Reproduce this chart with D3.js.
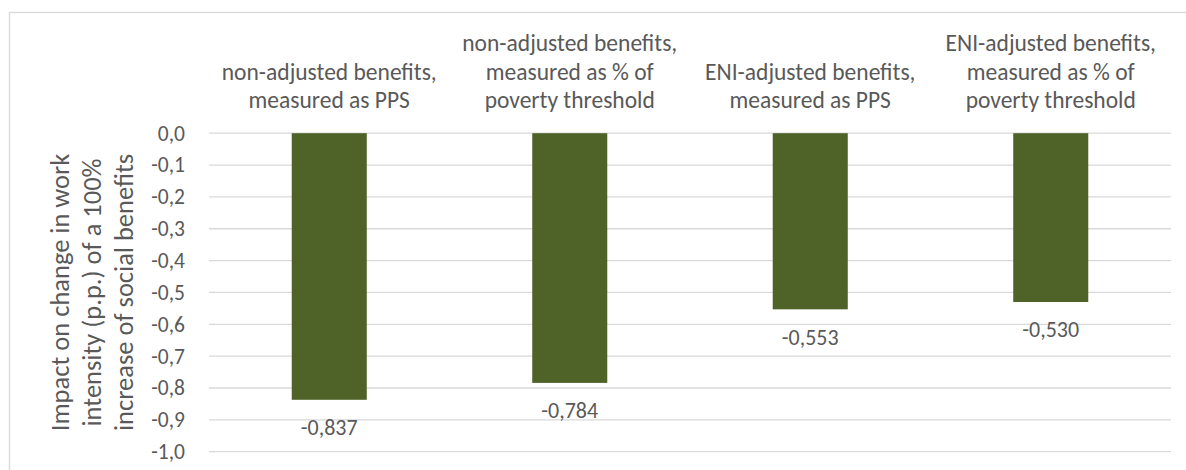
<!DOCTYPE html>
<html>
<head>
<meta charset="utf-8">
<script src="https://cdn.jsdelivr.net/npm/d3@7.9.0/dist/d3.min.js"></script>
<style>
  html, body { margin: 0; padding: 0; background: #fff; }
  svg { display: block; }
  text { font-family: Calibri, Carlito, Lato, sans-serif; fill: #595959; }
</style>
</head>
<body>
<div id="chart"></div>
<script>
// categories, one label per bar (lines split for the header)
const categories = [
  ["non-adjusted benefits,", "measured as PPS"],
  ["non-adjusted benefits,", "measured as % of", "poverty threshold"],
  ["ENI-adjusted benefits,", "measured as PPS"],
  ["ENI-adjusted benefits,", "measured as % of", "poverty threshold"]
];
const values = [-0.837, -0.784, -0.553, -0.530];
const yTicks = [0, -0.1, -0.2, -0.3, -0.4, -0.5, -0.6, -0.7, -0.8, -0.9, -1.0];
const yTitle = ["Impact on change in work", "intensity (p.p.) of a 100%", "increase of social benefits"];

const W = 1186, H = 470;
const margin = { top: 133.2, right: 15, bottom: 18.3, left: 209 };
const iw = W - margin.left - margin.right;
const ih = H - margin.top - margin.bottom;

const svg = d3.select("#chart").append("svg")
  .attr("width", W)
  .attr("height", H);

// chart frame (runs off the right and bottom edge)
svg.append("rect")
  .attr("x", 9.5).attr("y", 12.5)
  .attr("width", W + 10).attr("height", H + 10)
  .attr("fill", "none")
  .attr("stroke", "#d9d9d9")
  .attr("stroke-width", 1.3);

const g = svg.append("g").attr("transform", `translate(${margin.left},${margin.top})`);

const x = d3.scaleBand()
  .domain(d3.range(categories.length))
  .range([0, iw])
  .paddingInner(0.688)
  .paddingOuter(0.344);

const y = d3.scaleLinear().domain([0, -1]).range([0, ih]);

// gridlines
g.selectAll(".grid")
  .data(yTicks)
  .enter().append("line")
  .attr("x1", 0).attr("x2", iw)
  .attr("y1", d => y(d)).attr("y2", d => y(d))
  .style("stroke", "#d9d9d9")
  .style("stroke-width", "1.3px");

// y axis labels
const fmt = v => d3.format(".1f")(v).replace("−", "-").replace(".", ",");
const yAxis = d3.axisLeft(y).tickValues(yTicks).tickSize(0).tickPadding(24).tickFormat(fmt);
const ya = g.append("g").call(yAxis);
ya.select(".domain").remove();
ya.selectAll("text")
  .style("font-size", "21.5px")
  .style("font-family", "Calibri, Carlito, Lato, sans-serif")
  .attr("fill", "#595959");

// bars
g.selectAll(".bar")
  .data(values)
  .enter().append("rect")
  .attr("x", (d, i) => x(i))
  .attr("width", x.bandwidth())
  .attr("y", 0)
  .attr("height", d => y(d))
  .style("fill", "#4f6228");

// value labels
g.selectAll(".val")
  .data(values)
  .enter().append("text")
  .attr("x", (d, i) => x(i) + x.bandwidth() / 2)
  .attr("y", d => y(d) + 27.5)
  .attr("dy", "0.35em")
  .attr("text-anchor", "middle")
  .style("font-size", "22px")
  .text(d => d3.format(".3f")(d).replace("−", "-").replace(".", ","));

// category headers, bottom aligned above the plot
const lineH = 28.5;
categories.forEach((lines, i) => {
  const cx = x(i) + x.bandwidth() / 2;
  lines.forEach((t, k) => {
    g.append("text")
      .attr("x", cx)
      .attr("y", -33 - (lines.length - 1 - k) * lineH)
      .attr("dy", "0.35em")
      .attr("text-anchor", "middle")
      .style("font-size", "23.5px")
      .text(t);
  });
});

// y axis title
const ty = svg.append("g")
  .attr("transform", `translate(60,${margin.top + ih / 2}) rotate(-90)`);
yTitle.forEach((t, k) => {
  ty.append("text")
    .attr("x", 0)
    .attr("y", k * 32)
    .attr("dy", "0.35em")
    .attr("text-anchor", "middle")
    .style("font-size", "26.5px")
    .text(t);
});
</script>
</body>
</html>
